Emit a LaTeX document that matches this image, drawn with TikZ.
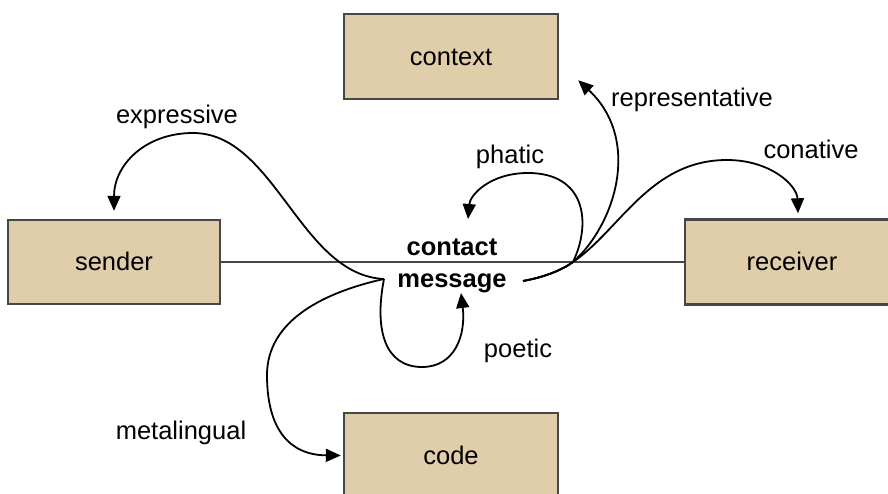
\documentclass[tikz,border=0pt]{standalone}
\usepackage{fontspec}
\setmainfont{Liberation Sans}
\usetikzlibrary{arrows.meta,positioning}

\definecolor{boxfill}{HTML}{E0CDAA}
\definecolor{boxline}{HTML}{474747}

\begin{document}
\begin{tikzpicture}[x=1pt,y=-1pt,
font=\fontsize{25.5}{32}\selectfont,
block/.style={draw=boxline, line width=2.4pt, fill=boxfill, minimum width=214pt, minimum height=85pt, text height=18pt, text depth=2pt},
func/.style={-{Triangle[length=15pt,width=13pt]}, line width=1.8pt},
lbl/.style={anchor=base, inner sep=0pt}
]
\useasboundingbox (0,0) rectangle (888,494);
\clip (0,0) rectangle (888,494);

% the six factors
\node[block, text depth=0pt] (ctx) at (451,56.5) {context};
\node[block, minimum width=212pt, minimum height=84pt] (sender) at (114,262) {sender};
\node[block] (receiver) at (792,262) {receiver};
\node[block, text depth=0pt] (code) at (451,455.5) {code};
\draw[draw=boxline, line width=2.4pt] (sender) -- (receiver);
\node[font=\fontsize{25.5}{32}\selectfont\bfseries, align=center] (msg) at (452,266) {contact\\message};

\coordinate (lcusp) at (384,279);
\coordinate (mout) at (523,281);
\coordinate (rjoin) at (573,262);

% functions on the left
\draw[func] (lcusp) .. controls (300,275) and (275,133) .. (193,133)
  .. controls (145,133) and (114,165) .. ([yshift=8pt]sender.north);
\draw[func] (lcusp) .. controls (325,292) and (267,320) .. (267,375)
  .. controls (267,430) and (290,455) .. ([xshift=-2pt]code.west);
\draw[func] (lcusp) .. controls (374,330) and (385,367) .. (422,367)
  .. controls (455,367) and (466,335) .. ([shift={(9,27)}]msg.center);

% functions on the right
\draw[func] (mout) .. controls (545,277) and (562,270) .. (rjoin)
  .. controls (592,222) and (585,173) .. (528,173)
  .. controls (490,173) and (470,195) .. ([shift={(16,-47)}]msg.center);
\draw[func] (mout) .. controls (545,277) and (562,270) .. (rjoin)
  .. controls (615,225) and (642,140) .. ([shift={(19,-20)}]ctx.south east);
\draw[func] (mout) .. controls (545,277) and (562,270) .. (rjoin)
  .. controls (620,230) and (650,160) .. (727,160)
  .. controls (770,160) and (797,185) .. ([xshift=6pt,yshift=5pt]receiver.north);

% labels
\node[lbl] (expr) at (177,124) {expressive};
\node[lbl] (repr) at (692,107) {representative};
\node[lbl] (phat) at (510,164) {phatic};
\node[lbl] (conat) at (811,159) {conative};
\node[lbl] (poet) at (518,357) {poetic};
\node[lbl] (meta) at (181,439) {metalingual};
\end{tikzpicture}
\end{document}
